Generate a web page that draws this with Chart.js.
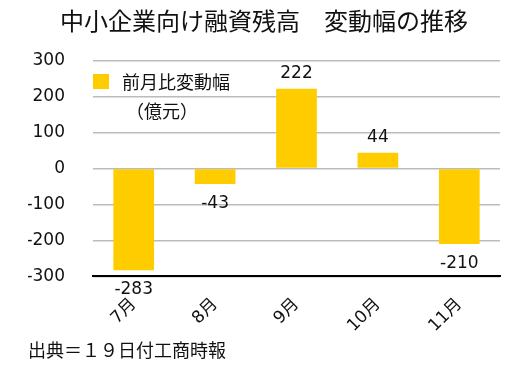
<!DOCTYPE html>
<html>
<head>
<meta charset="utf-8">
<script src="https://cdn.jsdelivr.net/npm/chart.js@4.4.1/dist/chart.umd.min.js"></script>
<style>
  body { margin: 0; background: #fff; }
  #wrap { width: 514px; height: 373px; }
</style>
</head>
<body>
<div id="wrap"><canvas id="myChart" width="514" height="373"></canvas></div>
<script>
var months = ['7月', '8月', '9月', '10月', '11月']
var henka = [-283, -43, 222, 44, -210]
var yTicks = [-300, -200, -100, 0, 100, 200, 300]

var FONT = "'Noto Sans CJK JP', 'Noto Sans', sans-serif"
var NUMFONT = "'DejaVu Sans', 'Noto Sans CJK JP', sans-serif"
var GOLD = '#FFCC00'

// ラベルと凡例は自前で描く
var ラベル = {
    id: 'valueLabels',
    afterDatasetsDraw: function (chart) {
        var c = chart.ctx
        var meta = chart.getDatasetMeta(0)
        c.save()
        c.font = '17px ' + NUMFONT
        c.fillStyle = '#111'
        c.textAlign = 'center'
        c.textBaseline = 'alphabetic'
        meta.data.forEach(function (bar, i) {
            var v = henka[i]
            if (v >= 0) c.fillText(String(v), bar.x, bar.y - 11)
            else c.fillText(String(v), bar.x, bar.y + 24)
        })
        // 凡例
        var a = chart.chartArea
        c.fillStyle = GOLD
        c.fillRect(a.left, 74, 16, 15)
        c.fillStyle = '#111'
        c.font = '18px ' + FONT
        c.textAlign = 'left'
        c.textBaseline = 'middle'
        c.fillText(chart.data.datasets[0].label, a.left + 29, 82)
        c.fillText('（億元）', a.left + 33, 111)
        c.restore()
    }
}

var ctx = document.getElementById('myChart')
var myChart = new Chart(ctx, {
    type: 'bar',
    data: {
        labels: months,
        datasets: [{
            label: '前月比変動幅',
            data: henka,
            backgroundColor: GOLD,
            barPercentage: 0.5,
            categoryPercentage: 1.0
        }]
    },
    options: {
        responsive: false,
        animation: false,
        layout: { padding: { left: 28, right: 14 } },
        plugins: {
            legend: { display: false },
            tooltip: { enabled: false },
            title: {
                display: true,
                text: '中小企業向け融資残高　変動幅の推移',
                color: '#111',
                font: { family: FONT, size: 24, weight: 'normal' },
                padding: { top: 6, bottom: 26 }
            },
            subtitle: {
                display: true,
                position: 'bottom',
                align: 'start',
                text: '出典＝１９日付工商時報',
                color: '#111',
                font: { family: FONT, size: 18, weight: 'normal' },
                padding: { top: 4, bottom: 12 }
            }
        },
        scales: {
            x: {
                grid: { display: false, drawTicks: false },
                border: { color: '#000', width: 2 },
                ticks: {
                    color: '#111',
                    font: { family: NUMFONT, size: 17 },
                    minRotation: 45,
                    maxRotation: 45,
                    padding: 18
                },
                afterFit: function (axis) { axis.height = 59 }
            },
            y: {
                min: -300,
                max: 300,
                afterBuildTicks: function (axis) {
                    axis.ticks = yTicks.map(function (v) { return { value: v } })
                },
                grid: { color: '#bbb', lineWidth: 1.5, drawTicks: false },
                border: { display: false },
                ticks: {
                    color: '#111',
                    font: { family: NUMFONT, size: 17 },
                    padding: 28
                },
                afterFit: function (axis) { axis.width = 65 }
            }
        }
    },
    plugins: [ラベル]
})
</script>
</body>
</html>
